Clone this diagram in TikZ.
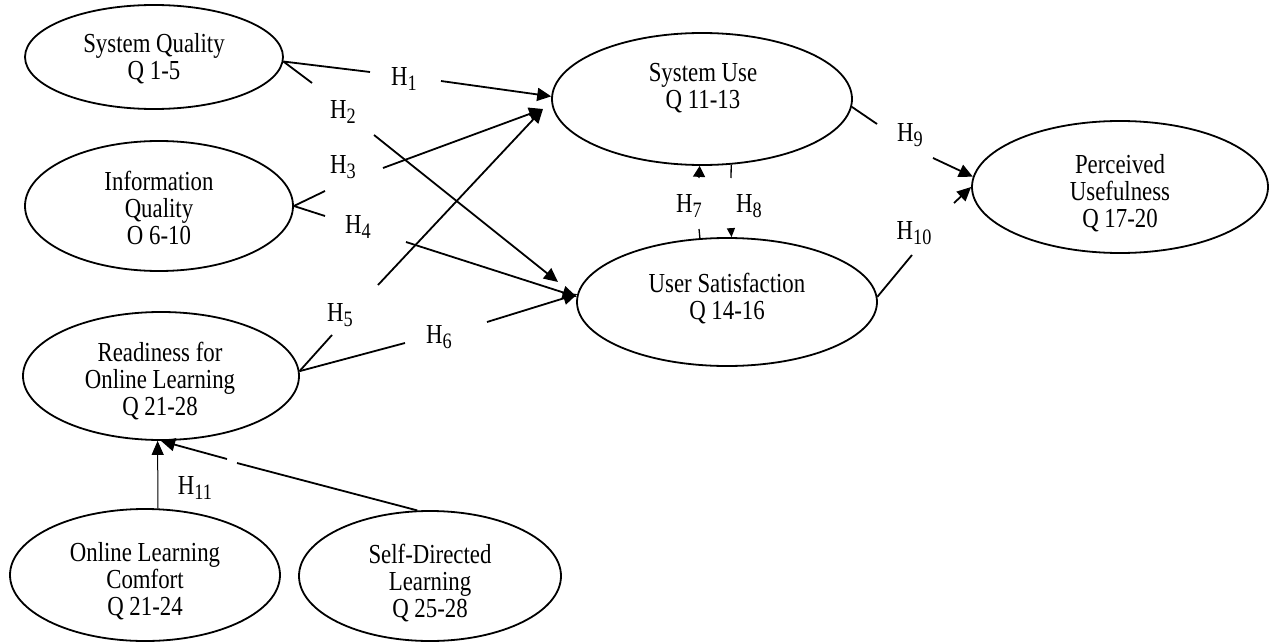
\documentclass[tikz,border=0pt]{standalone}
\usepackage{fontspec}
\setmainfont{Liberation Serif}[FakeStretch=0.83]
\usetikzlibrary{shapes.geometric,arrows.meta}
\newcommand\Hlab[1]{H\raisebox{-5pt}{\fontsize{22}{22}\selectfont #1}}
\begin{document}
\begin{tikzpicture}[x=1pt,y=-1pt,
  oval/.style={draw,ellipse,line width=1.8pt,inner sep=0pt},
  otext/.style={align=center,font=\fontsize{27.5}{27}\selectfont,inner sep=0pt},
  hlab/.style={font=\fontsize{27.5}{30}\selectfont,inner sep=0pt},
  conn/.style={line width=1.8pt},
  arr/.style={conn,-{Triangle[length=14pt,width=13pt]}},
  thinarr/.style={line width=1pt,-{Triangle[length=14pt,width=12pt]}},
  uparr/.style={line width=1.3pt,-{Triangle[length=11pt,width=12pt]}},
  smallarr/.style={line width=1.3pt,-{Triangle[length=9pt,width=8pt]}},
  thinline/.style={line width=1.3pt}
  ]
\useasboundingbox (0,0) rectangle (1269,642);
% ellipses
\node[oval,minimum width=258pt,minimum height=104pt] (sq) at (154,57) {};
\node[oval,minimum width=268pt,minimum height=130pt] (iq) at (159,206) {};
\node[oval,minimum width=300pt,minimum height=132pt] (su) at (702,99) {};
\node[oval,minimum width=296pt,minimum height=132pt] (pu) at (1120,187) {};
\node[oval,minimum width=300pt,minimum height=128pt] (us) at (727,302) {};
\node[oval,minimum width=276pt,minimum height=128pt] (rd) at (161,376) {};
\node[oval,minimum width=270pt,minimum height=132pt] (olc) at (145,575) {};
\node[oval,minimum width=262pt,minimum height=130pt] (sdl) at (430,576) {};
% texts
\node[otext] (sqt) at (154,58.5) {System Quality\\Q 1-5};
\node[otext] (iqt) at (159,208) {Information\\Quality\\O 6-10};
\node[otext] (sut) at (703,88.5) {System Use\\Q 11-13};
\node[otext] (put) at (1120,193.5) {Perceived\\Usefulness\\Q 17-20};
\node[otext] (ust) at (727,298.5) {User Satisfaction\\Q 14-16};
\node[otext] (rdt) at (160,381.5) {Readiness for\\Online Learning\\Q 21-28};
\node[otext] (olct) at (145,581.5) {Online Learning\\Comfort\\Q 21-24};
\node[otext] (sdlt) at (430,583.5) {Self-Directed\\Learning\\Q 25-28};
% hypothesis labels
\node[hlab] (h1) at (404,79) {\Hlab{1}};
\node[hlab] (h2) at (343,112) {\Hlab{2}};
\node[hlab] (h3) at (343,167) {\Hlab{3}};
\node[hlab] (h4) at (358,227) {\Hlab{4}};
\node[hlab] (h5) at (340,315) {\Hlab{5}};
\node[hlab] (h6) at (439,337) {\Hlab{6}};
\node[hlab] (h7) at (689,206) {\Hlab{7}};
\node[hlab] (h8) at (749,206) {\Hlab{8}};
\node[hlab] (h9) at (910,135) {\Hlab{9}};
\node[hlab] (h10) at (914,233) {\Hlab{10}};
\node[hlab] (h11) at (195,488) {\Hlab{11}};
% break coordinates
\coordinate (a1) at (370,72);  \coordinate (b1) at (441,81);
\coordinate (a2) at (312,83);  \coordinate (b2) at (374,135);
\coordinate (a3) at (325,191); \coordinate (b3) at (383,168);
\coordinate (a4) at (325,216); \coordinate (b4) at (406,242);
\coordinate (a5) at (332,335); \coordinate (b5) at (378,285);
\coordinate (a6) at (405,343); \coordinate (b6) at (487,322);
\coordinate (a7) at (699,229); \coordinate (b7) at (699,178);
\coordinate (a8) at (731,178); \coordinate (b8) at (731,229);
\coordinate (a9) at (877,124); \coordinate (b9) at (933,158);
\coordinate (a10) at (912,255); \coordinate (b10) at (954,203);
\coordinate (a11) at (237,463); \coordinate (b11) at (227,459);
\coordinate (t2) at (558,282);
\coordinate (t35) at (543,109);
% connectors
\draw[conn] (sq.-2) -- (a1);  \draw[arr] (b1) -- (su.179);
\draw[conn] (sq.-2) -- (a2);  \draw[arr] (b2) -- (t2);
\draw[conn] (iq.0) -- (a3);   \draw[arr] (b3) -- (t35);
\draw[conn] (iq.0) -- (a4);   \draw[arr] (b4) -- (us.178);
\draw[conn] (rd.2.5) -- (a5); \draw[arr] (b5) -- (t35);
\draw[conn] (rd.2.5) -- (a6); \draw[arr] (b6) -- (us.177);
\draw[thinline] (us.113.6) -- (a7); \draw[uparr] (b7) -- (su.-92.6);
\draw[thinline] (su.-66.3) -- (a8); \draw[smallarr] (b8) -- (us.86.4);
\draw[conn] (su.-3.5) -- (a9); \draw[arr] (b9) -- (pu.176);
\draw[conn] (us.2) -- (a10);   \draw[arr] (b10) -- (pu.180);
\draw[thinarr] (olc.79.7) -- (rd.-93.5);
\draw[conn] (sdl.101.3) -- (a11); \draw[arr] (b11) -- (rd.-90.5);
\end{tikzpicture}
\end{document}
